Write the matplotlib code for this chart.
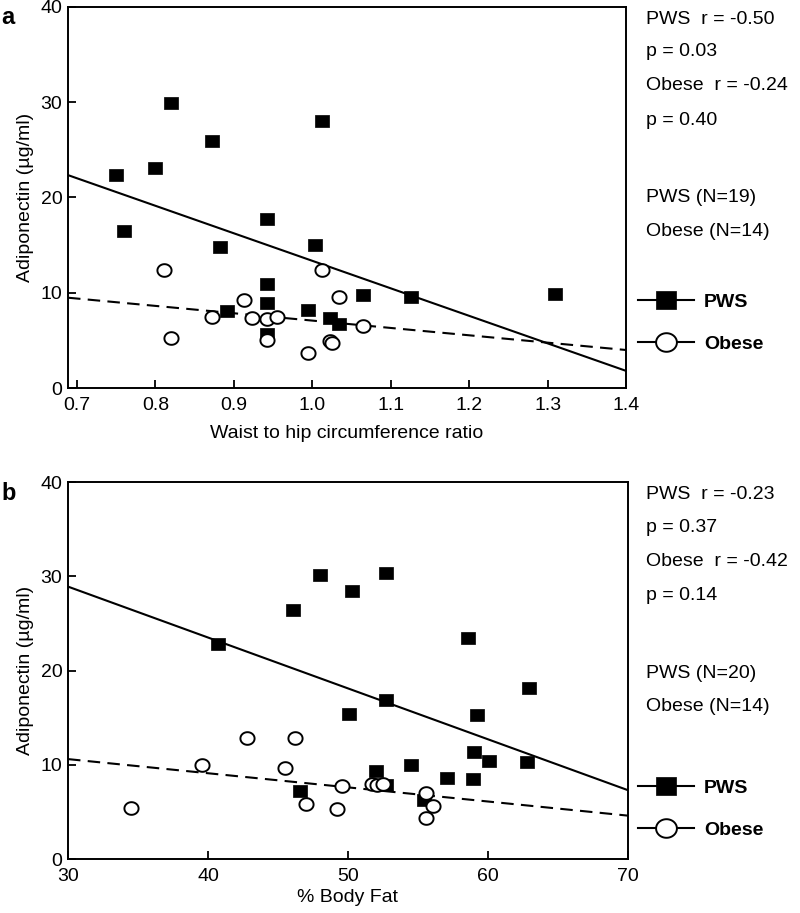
import numpy as np
import matplotlib.pyplot as plt
from matplotlib.path import Path
from matplotlib.lines import Line2D

plt.rcParams['font.family'] = ['Liberation Sans', 'DejaVu Sans']

# ---- panel a : waist to hip ratio ----
whr_pws = [0.750, 0.760, 0.800, 0.820, 0.872, 0.882, 0.891, 0.942, 0.942, 0.942,
           0.942, 0.994, 1.003, 1.013, 1.023, 1.034, 1.065, 1.126, 1.309]
adipo_pws_a = [22.4, 16.5, 23.1, 29.9, 25.9, 14.8, 8.1, 17.7, 10.9, 8.9,
               5.7, 8.2, 15.0, 28.0, 7.4, 6.7, 9.8, 9.6, 9.9]
whr_obese = [0.811, 0.820, 0.872, 0.913, 0.923, 0.942, 0.942, 0.955, 0.994, 1.013,
             1.022, 1.025, 1.034, 1.065]
adipo_obese_a = [12.4, 5.3, 7.5, 9.2, 7.3, 7.2, 5.0, 7.5, 3.7, 12.4,
                 4.9, 4.7, 9.6, 6.5]
fit_a_x = [0.6885, 1.4]
fit_a_pws = [22.35, 1.8]
fit_a_obese = [9.48, 3.99]
stats_a = ["PWS  r = -0.50", "p = 0.03", "Obese  r = -0.24", "p = 0.40"]
counts_a = ["PWS (N=19)", "Obese (N=14)"]

# ---- panel b : % body fat ----
fat_pws = [40.7, 46.1, 48.0, 50.3, 52.7, 52.7, 50.1, 52.0, 52.7, 46.6,
           58.6, 62.9, 59.2, 54.5, 59.0, 60.1, 62.8, 57.1, 58.9, 55.4]
adipo_pws_b = [22.8, 26.4, 30.1, 28.4, 30.3, 16.9, 15.4, 9.3, 7.9, 7.2,
               23.5, 18.1, 15.3, 10.0, 11.4, 10.4, 10.3, 8.6, 8.5, 6.3]
fat_obese = [34.5, 39.6, 42.8, 46.2, 45.5, 47.0, 49.2, 49.6, 51.7, 52.1,
             52.5, 55.6, 56.1, 55.6]
adipo_obese_b = [5.4, 10.0, 12.8, 12.8, 9.7, 5.8, 5.3, 7.7, 8.0, 7.8,
                 8.0, 7.0, 5.6, 4.3]
fit_b_x = [30, 70]
fit_b_pws = [28.9, 7.3]
fit_b_obese = [10.6, 4.6]
stats_b = ["PWS  r = -0.23", "p = 0.37", "Obese  r = -0.42", "p = 0.14"]
counts_b = ["PWS (N=20)", "Obese (N=14)"]

W, H = 800, 913
fig = plt.figure(figsize=(W / 100, H / 100), dpi=100)

# slightly wide markers, like the scanned figure
t = np.linspace(0, 2 * np.pi, 64)
oval = Path(np.column_stack([1.12 * np.cos(t), np.sin(t)]), closed=True)
square = Path([(-1.12, -1), (1.12, -1), (1.12, 1), (-1.12, 1), (-1.12, -1)], closed=True)

fs = 14
dash = (6, 3.5)


def panel(rect, xp, yp, xo, yo, fx, fp, fo, xlim, xticks, xlabel, letter,
          stats, counts, top_px, leg_px, xpad):
    ax = fig.add_axes(rect)
    ax.plot(fx, fp, color='black', lw=1.5, zorder=2)
    ax.plot(fx, fo, color='black', lw=1.5, dashes=dash, zorder=2)
    ax.plot(xp, yp, ls='none', marker=square, ms=9.6, mfc='black', mec='black',
            mew=0.5, zorder=3)
    ax.plot(xo, yo, ls='none', marker=oval, ms=10.2, mfc='white', mec='black',
            mew=1.4, zorder=4)
    ax.set_xlim(*xlim)
    ax.set_ylim(0, 40)
    ax.set_xticks(xticks)
    ax.set_yticks([0, 10, 20, 30, 40])
    if isinstance(xticks[0], float):
        ax.set_xticklabels([f"{v:.1f}" for v in xticks])
    ax.tick_params(direction='in', length=6, width=1.3, labelsize=fs, pad=4)
    ax.tick_params(axis='x', pad=6.5)
    for s in ax.spines.values():
        s.set_linewidth(1.4)
    ax.set_xlabel(xlabel, fontsize=fs, labelpad=xpad)
    ax.set_ylabel("Adiponectin (\u00b5g/ml)", fontsize=fs, labelpad=5)

    fig.text(1 / W, 1 - (top_px + 11) / H, letter, fontsize=17, fontweight='bold',
             va='center', ha='left')
    rows = [top_px + 12, top_px + 45, top_px + 79, top_px + 113]
    for txt, y in zip(stats, rows):
        fig.text(646 / W, 1 - y / H, txt, fontsize=fs, va='center', ha='left')
    for txt, y in zip(counts, [top_px + 191, top_px + 224]):
        fig.text(646 / W, 1 - y / H, txt, fontsize=fs, va='center', ha='left')

    handles = [
        Line2D([], [], color='black', lw=1.5, marker=square, ms=14, mfc='black',
               mec='black', mew=0.5),
        Line2D([], [], color='black', lw=1.5, marker=oval, ms=15, mfc='white',
               mec='black', mew=1.4),
    ]
    fig.legend(handles, ["PWS", "Obese"], loc='center left',
               bbox_to_anchor=(638 / W, 1 - leg_px / H), frameon=False,
               prop={'size': fs, 'weight': 'bold'}, handlelength=2.9,
               handletextpad=0.5, labelspacing=1.25, borderpad=0,
               borderaxespad=0, numpoints=1)
    return ax


panel([68 / W, 1 - 388 / H, 558 / W, 381 / H], whr_pws, adipo_pws_a, whr_obese,
      adipo_obese_a, fit_a_x, fit_a_pws, fit_a_obese, (0.6885, 1.4),
      [0.7, 0.8, 0.9, 1.0, 1.1, 1.2, 1.3, 1.4], "Waist to hip circumference ratio",
      "a", stats_a, counts_a, 7, 323, 8)

panel([68 / W, 1 - 859 / H, 560 / W, 377 / H], fat_pws, adipo_pws_b, fat_obese,
      adipo_obese_b, fit_b_x, fit_b_pws, fit_b_obese, (30, 70),
      [30, 40, 50, 60, 70], "% Body Fat", "b", stats_b, counts_b, 482, 809, 3)

fig.savefig("out.png", dpi=100)
